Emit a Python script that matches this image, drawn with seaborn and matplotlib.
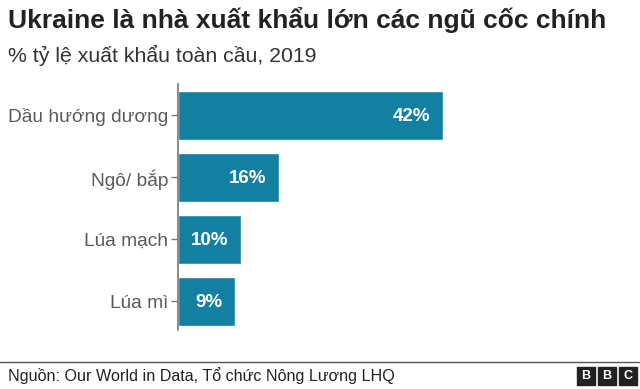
import matplotlib
matplotlib.use("Agg")
import matplotlib.pyplot as plt
import seaborn as sns
import pandas as pd
from matplotlib.patches import Rectangle

categories = ["Dầu hướng dương", "Ngô/ bắp", "Lúa mạch", "Lúa mì"]
values = [42, 16, 10, 9]
value_labels = ["42%", "16%", "10%", "9%"]

sns.set_theme(style="white")
plt.rcParams["font.family"] = ["Liberation Sans", "DejaVu Sans"]

df = pd.DataFrame({"cat": categories, "val": values})

fig = plt.figure(figsize=(6.4, 3.89), dpi=100)
ax = fig.add_axes([178/640, 1-330/389, (620-178)/640, (330-84)/389])
sns.barplot(data=df, y="cat", x="val", orient="h", color="#1380A1",
            saturation=1, width=0.79, ax=ax)
ax.set_xlim(0, 442/6.31)
ax.set_ylim(3.46, -0.508)
ax.set_xlabel("")
ax.set_ylabel("")
ax.set_xticks([])
for s in ["top", "right", "bottom"]:
    ax.spines[s].set_visible(False)
ax.spines["left"].set_color("#777777")
ax.spines["left"].set_linewidth(1.2)
ax.tick_params(axis="y", left=True, length=5, width=1, color="#777777",
               labelsize=13.8, labelcolor="#5a5a5a", pad=2)

for i, (v, lab) in enumerate(zip(values, value_labels)):
    ax.text(v - 2.0, i + 0.02, lab, ha="right", va="center", color="white",
            fontsize=13.5, fontweight="bold")

fig.text(8/640, 1-20/389, "Ukraine là nhà xuất khẩu lớn các ngũ cốc chính",
         fontsize=19, fontweight="bold", color="#222222", ha="left", va="center")
fig.text(8/640, 1-55/389, "% tỷ lệ xuất khẩu toàn cầu, 2019",
         fontsize=15.3, color="#333333", ha="left", va="center")

fig.add_artist(plt.Line2D([0, 1], [1-362/389, 1-362/389], color="#555555", lw=1,
                          transform=fig.transFigure))
fig.text(8/640, 1-376/389, "Nguồn: Our World in Data, Tổ chức Nông Lương LHQ",
         fontsize=11.6, color="#222222", ha="left", va="center")

for k, letter in enumerate("BBC"):
    x0 = 577 + k * 21
    fig.add_artist(Rectangle((x0/640, 1-385/389), 18/640, 18/389,
                             transform=fig.transFigure, color="#222222"))
    fig.text((x0+9)/640, 1-376/389, letter, color="white", fontsize=9,
             fontweight="bold", ha="center", va="center")

fig.savefig("out.png", dpi=100)
